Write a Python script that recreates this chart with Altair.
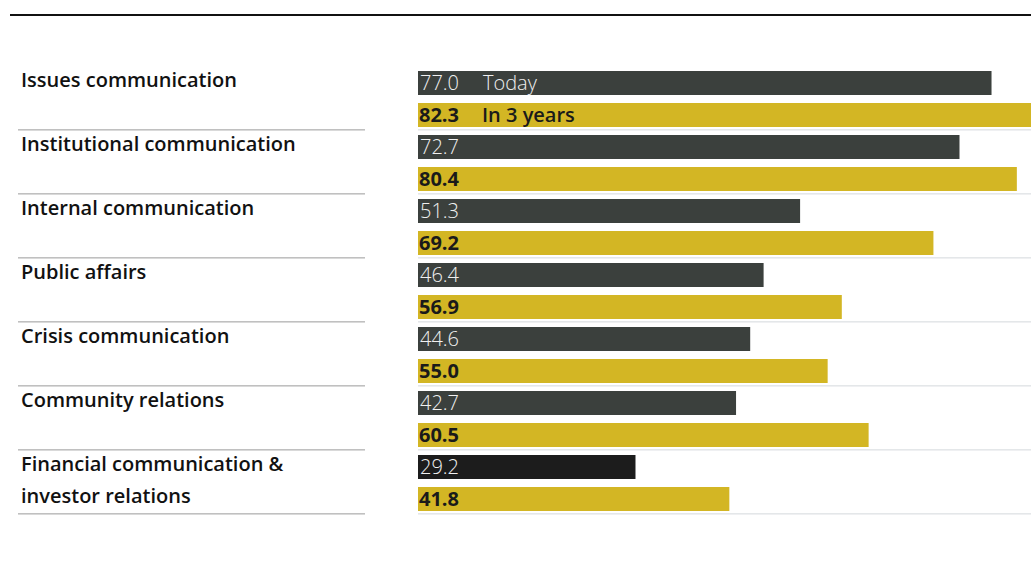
import altair as alt
import pandas as pd

categories = [
    "Issues communication",
    "Institutional communication",
    "Internal communication",
    "Public affairs",
    "Crisis communication",
    "Community relations",
    "Financial communication &\ninvestor relations",
]
today = [77.0, 72.7, 51.3, 46.4, 44.6, 42.7, 29.2]
in3years = [82.3, 80.4, 69.2, 56.9, 55.0, 60.5, 41.8]
series = ["Today", "In 3 years"]

rows = []
n = len(categories)
for i, (c, t, f) in enumerate(zip(categories, today, in3years)):
    rows.append(dict(cat=c, series="Today", value=t, row=2 * i,
                     label=f"{t:.1f}",
                     color="#1c1c1c" if i == n - 1 else "#3b403d"))
    rows.append(dict(cat=c, series="In 3 years", value=f, row=2 * i + 1,
                     label=f"{f:.1f}", color="#d3b624"))
df = pd.DataFrame(rows)
df["row2"] = df["row"] + 0.75
df["mid"] = df["row"] + 0.375
df["zero"] = 0.0

lab_rows = []
for i, c in enumerate(categories):
    for j, part in enumerate(c.split("\n")):
        lab_rows.append(dict(text=part, mid=2 * i + j + 0.375))
labels = pd.DataFrame(lab_rows)

sep = pd.DataFrame({"y": [2 * i + 1.84 for i in range(n)]})
legend = pd.DataFrame({"text": series, "mid": [0.375, 1.375]})
top = pd.DataFrame({"y": [-1.75]})

W, H = 613, 448
ys = alt.Scale(domain=[0, 14], reverse=True)
xs = alt.Scale(domain=[0, 82.3])

bars = alt.Chart(df).mark_bar(clip=True).encode(
    x=alt.X("zero:Q", scale=xs, axis=None),
    x2="value:Q",
    y=alt.Y("row:Q", scale=ys, axis=None),
    y2="row2:Q",
    color=alt.Color("color:N", scale=None),
)
today_txt = alt.Chart(df[df.series == "Today"]).mark_text(
    align="left", baseline="middle", fontSize=20, font="Open Sans",
    fontWeight=300, color="#f0f0f0", dx=2, dy=1
).encode(x=alt.value(0), y=alt.Y("mid:Q", scale=ys, axis=None), text="label:N")
fut_txt = alt.Chart(df[df.series == "In 3 years"]).mark_text(
    align="left", baseline="middle", fontSize=20, font="Open Sans",
    fontWeight="bold", color="#1a1a1a", dx=1, dy=1
).encode(x=alt.value(0), y=alt.Y("mid:Q", scale=ys, axis=None), text="label:N")

leg_today = alt.Chart(legend.iloc[[0]]).mark_text(
    align="left", baseline="middle", fontSize=20, font="Open Sans",
    fontWeight=300, color="#eeeeee", dy=1
).encode(x=alt.value(65), y=alt.Y("mid:Q", scale=ys, axis=None), text="text:N")
leg_fut = alt.Chart(legend.iloc[[1]]).mark_text(
    align="left", baseline="middle", fontSize=20, font="Open Sans",
    fontWeight=600, color="#1a1a1a", dy=1
).encode(x=alt.value(64), y=alt.Y("mid:Q", scale=ys, axis=None), text="text:N")

cat_txt = alt.Chart(labels).mark_text(
    align="left", baseline="middle", fontSize=20, font="Open Sans",
    fontWeight=600, color="#111111", dy=-2
).encode(x=alt.value(-397), y=alt.Y("mid:Q", scale=ys, axis=None), text="text:N")

sep_left = alt.Chart(sep).mark_rule(color="#9a9a9a", strokeWidth=1).encode(
    y=alt.Y("y:Q", scale=ys, axis=None), x=alt.value(-400), x2=alt.value(-53))
sep_right = alt.Chart(sep).mark_rule(color="#d4d8dc", strokeWidth=1).encode(
    y=alt.Y("y:Q", scale=ys, axis=None), x=alt.value(0), x2=alt.value(W))
top_rule = alt.Chart(top).mark_rule(color="#111111", strokeWidth=2).encode(
    y=alt.Y("y:Q", scale=ys, axis=None), x=alt.value(-408), x2=alt.value(W))

chart = alt.layer(
    top_rule, sep_left, sep_right, bars, today_txt, fut_txt, leg_today, leg_fut, cat_txt
).properties(
    width=W, height=H,
    background="white",
    autosize=alt.AutoSizeParams(type="none"),
    padding={"left": 418, "top": 71, "right": 0, "bottom": 53},
).configure_view(stroke=None)

chart.save("out.html", embed_options={"renderer": "svg", "actions": False})
